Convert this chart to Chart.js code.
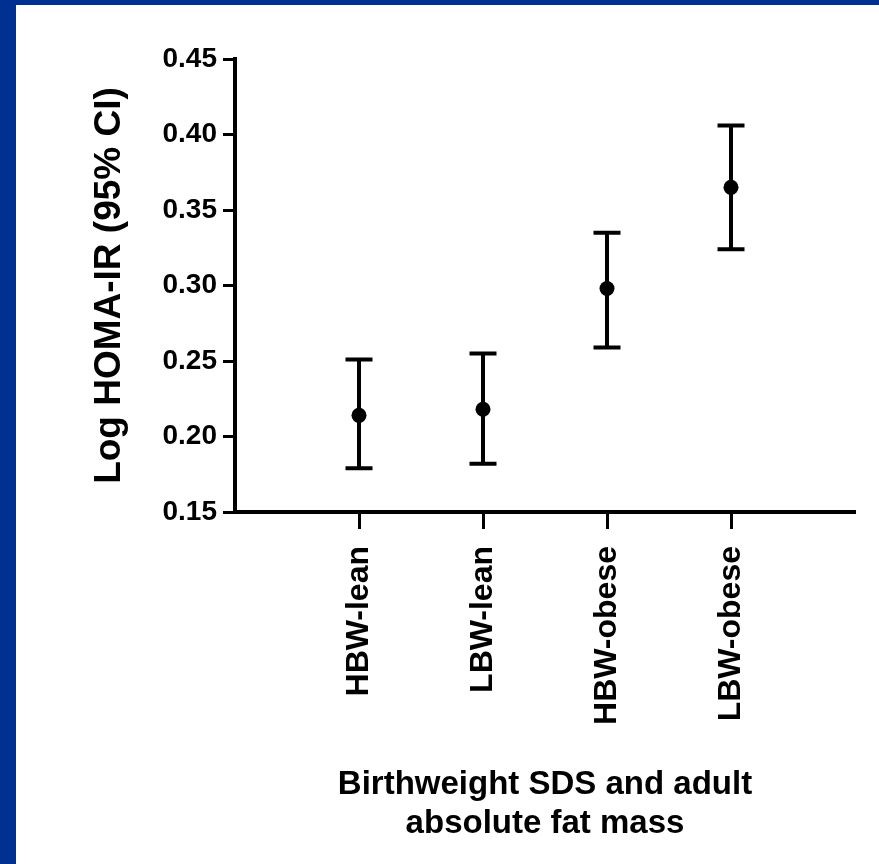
<!DOCTYPE html>
<html lang="en">
<head>
    <meta charset="UTF-8">
    <title>Log HOMA-IR by birthweight and fat mass</title>
    <script src="https://cdn.jsdelivr.net/npm/chart.js"></script>
    <style>
        html, body { margin: 0; padding: 0; }
        body { background: #003092; width: 879px; height: 864px; overflow: hidden; }
        #panel { position: absolute; left: 16px; top: 5px; width: 863px; height: 859px; background: #fff; }
    </style>
</head>
<body>
    <div id="panel">
        <canvas id="homa-chart" width="863" height="859"></canvas>
    </div>
    <script>
        // groups and their mean / 95% CI values
        const groups = ['HBW-lean', 'LBW-lean', 'HBW-obese', 'LBW-obese'];
        const means = [0.214, 0.218, 0.298, 0.365];
        const lower = [0.179, 0.182, 0.259, 0.324];
        const upper = [0.251, 0.255, 0.335, 0.406];
        const yTicks = [0.15, 0.20, 0.25, 0.30, 0.35, 0.40, 0.45];

        const font = 'Liberation Sans, Arial, sans-serif';

        // whiskers with caps, drawn under the points
        const errorBars = {
            id: 'errorBars',
            beforeDatasetsDraw(chart) {
                const { ctx, scales: { x, y } } = chart;
                ctx.save();
                ctx.strokeStyle = '#000';
                ctx.lineWidth = 4;
                groups.forEach((g, i) => {
                    const px = x.getPixelForValue(i + 1);
                    const top = y.getPixelForValue(upper[i]);
                    const bot = y.getPixelForValue(lower[i]);
                    ctx.beginPath();
                    ctx.moveTo(px, top);
                    ctx.lineTo(px, bot);
                    ctx.moveTo(px - 13.5, top);
                    ctx.lineTo(px + 13.5, top);
                    ctx.moveTo(px - 13.5, bot);
                    ctx.lineTo(px + 13.5, bot);
                    ctx.stroke();
                });
                ctx.restore();
            }
        };

        const ctx = document.getElementById('homa-chart').getContext('2d');
        new Chart(ctx, {
            type: 'scatter',
            data: {
                datasets: [{
                    data: groups.map((g, i) => ({ x: i + 1, y: means[i] })),
                    pointRadius: 7.5,
                    pointBackgroundColor: '#000',
                    pointBorderColor: '#000',
                    pointBorderWidth: 0
                }]
            },
            options: {
                responsive: false,
                animation: false,
                devicePixelRatio: 1,
                layout: { padding: { left: 0, top: 54, right: 24, bottom: 0 } },
                plugins: {
                    legend: { display: false },
                    tooltip: { enabled: false }
                },
                scales: {
                    x: {
                        type: 'linear',
                        min: 0,
                        max: 5,
                        afterBuildTicks: (scale) => {
                            scale.ticks = groups.map((g, i) => ({ value: i + 1 }));
                        },
                        afterFit: (scale) => { scale.height = 352; },
                        border: { display: true, color: '#000', width: 4 },
                        grid: { drawOnChartArea: false, tickLength: 17, tickWidth: 3, tickColor: '#000' },
                        ticks: {
                            autoSkip: false,
                            minRotation: 90,
                            maxRotation: 90,
                            padding: 17,
                            color: '#000',
                            font: { family: font, size: 32, weight: 'bold' },
                            callback: (v) => groups[v - 1]
                        },
                        title: {
                            display: true,
                            text: ['Birthweight SDS and adult', 'absolute fat mass'],
                            color: '#000',
                            font: { family: font, size: 33, weight: 'bold', lineHeight: 1.18 },
                            padding: { top: 0, bottom: 21 }
                        }
                    },
                    y: {
                        min: 0.15,
                        max: 0.45,
                        afterBuildTicks: (scale) => {
                            scale.ticks = yTicks.map(v => ({ value: v }));
                        },
                        afterFit: (scale) => { scale.width = 219; },
                        border: { display: true, color: '#000', width: 4 },
                        grid: { drawOnChartArea: false, tickLength: 12, tickWidth: 3, tickColor: '#000' },
                        ticks: {
                            padding: 6,
                            color: '#000',
                            font: { family: font, size: 28, weight: 'bold' },
                            callback: (v) => v.toFixed(2)
                        },
                        title: {
                            display: true,
                            text: 'Log HOMA-IR (95% CI)',
                            color: '#000',
                            font: { family: font, size: 37, weight: 'bold', lineHeight: 1.2 },
                            padding: { top: 72, bottom: 0 }
                        }
                    }
                }
            },
            plugins: [errorBars]
        });
    </script>
</body>
</html>
